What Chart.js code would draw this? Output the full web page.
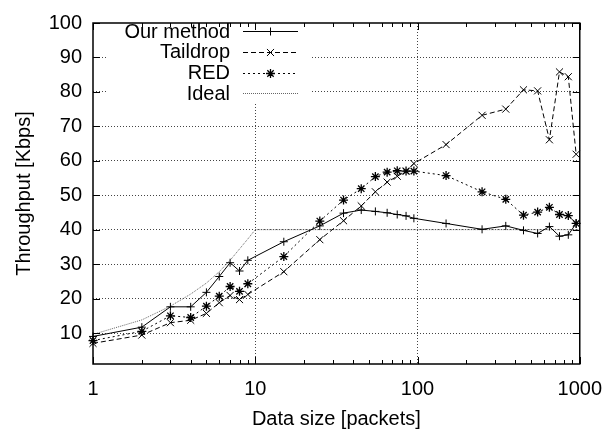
<!DOCTYPE html>
<html>
<head>
<meta charset="utf-8">
<script src="https://cdn.jsdelivr.net/npm/chart.js@4.4.0/dist/chart.umd.min.js"></script>
<style>
  html, body { margin: 0; padding: 0; background: #fff; }
</style>
</head>
<body>
<canvas id="myChart" width="615" height="435"></canvas>
<script>
// data size [packets] for the three measured series
const sizes = [1, 2, 3, 4, 5, 6, 7, 8, 9, 15, 25, 35, 45, 55, 65, 75, 85, 95, 150, 250, 350, 450, 550, 650, 750, 850, 950];
// throughput [Kbps]
const ourMethod = [9.0, 11.7, 17.6, 17.6, 21.8, 26.4, 30.4, 28.0, 31.1, 36.5, 41.1, 44.8, 45.7, 45.3, 44.9, 44.4, 44.0, 43.3, 41.8, 40.1, 41.1, 39.8, 38.9, 40.9, 38.1, 38.5, 41.8];
const taildrop = [7.0, 9.4, 13.0, 13.7, 15.7, 18.8, 20.9, 19.7, 21.2, 27.8, 37.1, 42.6, 46.9, 51.0, 53.8, 55.5, 57.0, 59.2, 64.7, 73.2, 75.0, 80.6, 80.3, 66.1, 85.8, 84.4, 61.9];
const red = [7.8, 10.5, 15.0, 14.5, 17.8, 20.7, 23.5, 22.1, 24.3, 32.2, 42.5, 48.6, 51.9, 55.4, 56.7, 57.1, 57.0, 57.0, 55.7, 51.0, 48.8, 44.2, 45.1, 46.5, 44.4, 44.1, 41.8];
const idealSizes = [1, 2, 3, 4, 5, 6, 7, 8, 9, 10, 1000];
const ideal = [9.6, 13.8, 17.8, 21.3, 24.5, 27.8, 31.1, 34.4, 37.3, 40, 40];

const xTicks = [1, 10, 100, 1000];
const yTicks = [10, 20, 30, 40, 50, 60, 70, 80, 90, 100];
const xGrid = [10, 100];

const FONT = "'Liberation Sans', Arial, Helvetica, sans-serif";

function pts(xs, ys) {
    return xs.map((x, i) => ({ x: x, y: ys[i] }));
}

// gnuplot style frame, inward ticks and key
const gnuplotLook = {
    id: 'gnuplotLook',
    beforeDatasetsDraw(chart) {
        const ctx = chart.ctx;
        // opaque key box hides the grid behind it
        ctx.save();
        ctx.fillStyle = '#fff';
        ctx.fillRect(107, 19, 205, 84);

        ctx.font = '20px ' + FONT;
        ctx.textAlign = 'right';
        ctx.textBaseline = 'middle';
        ctx.fillStyle = '#000';
        chart.data.datasets.forEach(function(ds, i) {
            const y = 31 + i * 20.8;
            ctx.fillText(ds.label, 230, y + 1);
            ctx.strokeStyle = ds.borderColor;
            ctx.lineWidth = ds.borderWidth;
            ctx.setLineDash(ds.borderDash || []);
            ctx.beginPath();
            ctx.moveTo(243, Math.round(y) + 0.5);
            ctx.lineTo(298, Math.round(y) + 0.5);
            ctx.stroke();
            ctx.setLineDash([]);
            if (ds.pointRadius > 0) {
                ctx.strokeStyle = ds.pointBorderColor;
                ctx.lineWidth = ds.pointBorderWidth;
                Chart.helpers.drawPoint(ctx, { pointStyle: ds.pointStyle, radius: ds.pointRadius, rotation: 0, borderWidth: ds.pointBorderWidth }, 270.5, Math.round(y) + 0.5);
            }
        });
        ctx.restore();
    },
    afterDatasetsDraw(chart) {
        const ctx = chart.ctx;
        const a = chart.chartArea;
        const xs = chart.scales.x;
        const ys = chart.scales.y;
        ctx.save();
        ctx.strokeStyle = '#000';
        ctx.lineWidth = 1;
        ctx.beginPath();
        // major x ticks, minor log ticks
        xTicks.forEach(function(v) {
            const px = Math.round(xs.getPixelForValue(v)) + 0.5;
            ctx.moveTo(px, a.bottom); ctx.lineTo(px, a.bottom - 7);
            ctx.moveTo(px, a.top); ctx.lineTo(px, a.top + 7);
            if (v < 1000) {
                for (let k = 2; k < 10; k++) {
                    const mx = Math.round(xs.getPixelForValue(v * k)) + 0.5;
                    ctx.moveTo(mx, a.bottom); ctx.lineTo(mx, a.bottom - 4);
                    ctx.moveTo(mx, a.top); ctx.lineTo(mx, a.top + 4);
                }
            }
        });
        yTicks.forEach(function(v) {
            const py = Math.round(ys.getPixelForValue(v)) + 0.5;
            ctx.moveTo(a.left, py); ctx.lineTo(a.left + 7, py);
            ctx.moveTo(a.right, py); ctx.lineTo(a.right - 7, py);
        });
        ctx.stroke();
        ctx.lineWidth = 1.5;
        ctx.strokeRect(a.left, a.top, a.right - a.left, a.bottom - a.top);
        ctx.restore();
    }
};

const ctx = document.getElementById('myChart').getContext('2d');
const myChart = new Chart(ctx, {
    type: 'line',
    data: {
        datasets: [{
            label: 'Our method',
            data: pts(sizes, ourMethod),
            borderColor: '#000',
            borderWidth: 1,
            pointStyle: 'cross',
            pointRadius: 4,
            pointBorderColor: '#000',
            pointBorderWidth: 1,
            clip: false
        }, {
            label: 'Taildrop',
            data: pts(sizes, taildrop),
            borderColor: '#000',
            borderWidth: 1,
            borderDash: [5, 3],
            pointStyle: 'crossRot',
            pointRadius: 5,
            pointBorderColor: '#000',
            pointBorderWidth: 1,
            clip: false
        }, {
            label: 'RED',
            data: pts(sizes, red),
            borderColor: '#000',
            borderWidth: 1,
            borderDash: [2, 3],
            pointStyle: 'star',
            pointRadius: 4.5,
            pointBorderColor: '#000',
            pointBorderWidth: 1.3,
            clip: false
        }, {
            label: 'Ideal',
            data: pts(idealSizes, ideal),
            borderColor: '#666',
            borderWidth: 1,
            borderDash: [1, 1],
            pointRadius: 0,
            clip: false
        }]
    },
    options: {
        responsive: false,
        animation: false,
        devicePixelRatio: 1,
        layout: { padding: { top: 16, right: 27, left: 0, bottom: 0 } },
        plugins: {
            legend: { display: false },
            tooltip: { enabled: false }
        },
        scales: {
            x: {
                type: 'logarithmic',
                min: 1,
                max: 1000,
                afterBuildTicks: function(scale) {
                    scale.ticks = xTicks.map(v => ({ value: v }));
                },
                afterFit: function(scale) { scale.height = 71; },
                ticks: {
                    autoSkip: false,
                    maxRotation: 0,
                    padding: 13,
                    color: '#000',
                    font: { family: FONT, size: 20 },
                    callback: function(value) { return String(value); }
                },
                grid: {
                    drawTicks: false,
                    lineWidth: 1,
                    color: function(c) {
                        return c.tick && xGrid.indexOf(c.tick.value) >= 0 ? '#444' : 'rgba(0,0,0,0)';
                    }
                },
                border: { display: false, dash: [1, 2] },
                title: {
                    display: true,
                    text: 'Data size [packets]',
                    color: '#000',
                    font: { family: FONT, size: 20 },
                    padding: { top: 0, bottom: 4 }
                }
            },
            y: {
                type: 'linear',
                min: 1,
                max: 100,
                afterBuildTicks: function(scale) {
                    scale.ticks = yTicks.map(v => ({ value: v }));
                },
                afterFit: function(scale) { scale.width = 93; },
                ticks: {
                    autoSkip: false,
                    padding: 11,
                    color: '#000',
                    font: { family: FONT, size: 20 }
                },
                grid: {
                    drawTicks: false,
                    lineWidth: 1,
                    color: function(c) {
                        return c.tick && c.tick.value < 100 ? '#444' : 'rgba(0,0,0,0)';
                    }
                },
                border: { display: false, dash: [1, 2] },
                title: {
                    display: true,
                    text: 'Throughput [Kbps]',
                    color: '#000',
                    font: { family: FONT, size: 20 },
                    padding: { top: 12, bottom: 0 }
                }
            }
        }
    },
    plugins: [gnuplotLook]
});
</script>
</body>
</html>
